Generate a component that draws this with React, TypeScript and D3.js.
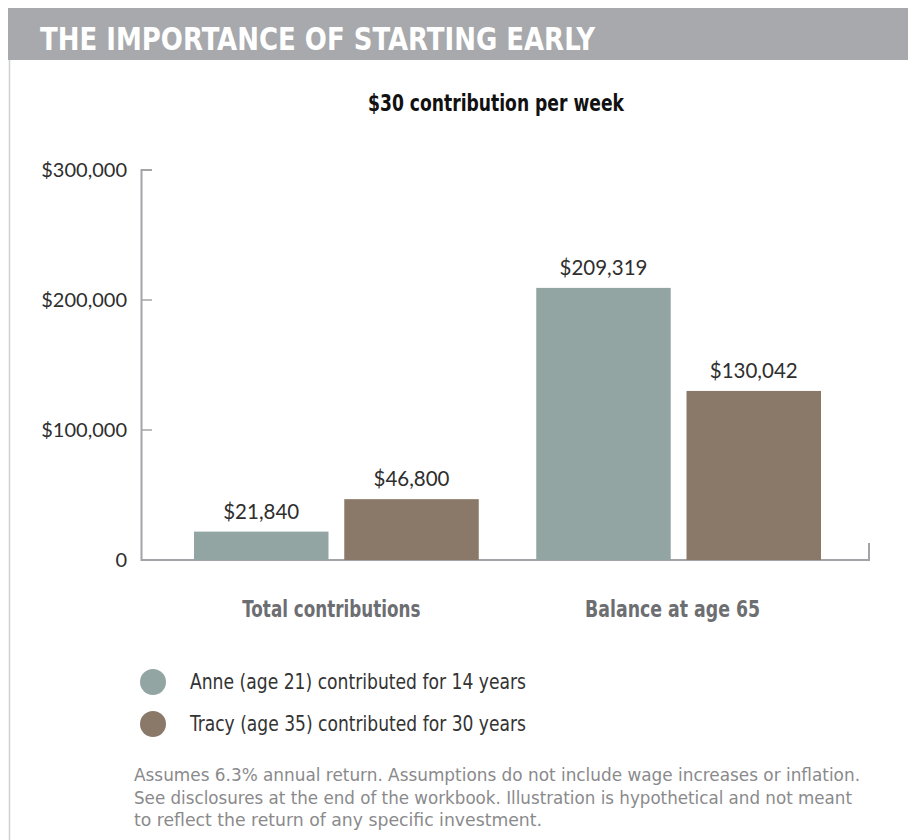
import React from "react";
import * as d3 from "d3";

const categories = ["Total contributions", "Balance at age 65"];
const seriesNames = ["Anne (age 21) contributed for 14 years", "Tracy (age 35) contributed for 30 years"];
const anneValues = [21840, 209319];
const tracyValues = [46800, 130042];
const yTicks = [0, 100000, 200000, 300000];
const colors = ["#92a5a3", "#8a7968"];
const footnoteLines = [
  "Assumes 6.3% annual return. Assumptions do not include wage increases or inflation.",
  "See disclosures at the end of the workbook. Illustration is hypothetical and not meant",
  "to reflect the return of any specific investment.",
];

const COND = "'Liberation Sans Narrow', 'DejaVu Sans Condensed', 'Roboto Condensed', sans-serif";
const LIGHT = "Lato, 'Open Sans', sans-serif";

export default function App() {
  const W = 908, H = 840;
  const y = d3.scaleLinear().domain([0, 300000]).range([560, 170]);
  const x0 = d3.scaleBand<string>().domain(categories).range([165.25, 849.75]).paddingInner(0.168).paddingOuter(0.084);
  const x1 = d3.scaleBand<string>().domain(["a", "t"]).range([0, x0.bandwidth()]).paddingInner(0.105);
  const series = [anneValues, tracyValues];
  const fmt = (v: number) => (v === 0 ? "0" : "$" + d3.format(",")(v));
  const axisColor = "#a3a4a8";

  return (
    <svg width={W} height={H} style={{ position: "absolute", left: 0, top: 0, background: "#fff" }}>
      <rect x={8} y={8} width={W - 8} height={52} fill="#a7a9ac" />
      <line x1={9.5} x2={9.5} y1={60} y2={H} stroke="#cfd0d2" strokeWidth={1.5} />
      <text x={40} y={50} fill="#fff" fontFamily={COND} fontWeight={700} fontSize={32} textLength={555} lengthAdjust="spacingAndGlyphs">
        THE IMPORTANCE OF STARTING EARLY
      </text>
      <text x={496} y={111} textAnchor="middle" fill="#111" fontFamily={COND} fontWeight={700} fontSize={23} textLength={256} lengthAdjust="spacingAndGlyphs">
        $30 contribution per week
      </text>

      {/* axes */}
      <path d={`M152,${y(300000)}H141.5V${y(0)}H869V543`} fill="none" stroke={axisColor} strokeWidth={2} />
      {yTicks.filter((t) => t > 0 && t < 300000).map((t) => (
        <line key={t} x1={141.5} x2={152} y1={y(t)} y2={y(t)} stroke={axisColor} strokeWidth={1.5} />
      ))}
      {yTicks.map((t) => (
        <text key={t} x={127} y={y(t)} dy="0.35em" textAnchor="end" fill="#2e2e2e" fontFamily={LIGHT} fontWeight={400} fontSize={20}>
          {fmt(t)}
        </text>
      ))}

      {/* bars */}
      {categories.map((c, ci) => (
        <g key={c} transform={`translate(${x0(c)},0)`}>
          {series.map((s, si) => {
            const bx = x1(si === 0 ? "a" : "t") as number;
            const bw = x1.bandwidth();
            return (
              <g key={si}>
                <rect x={bx} y={y(s[ci])} width={bw} height={y(0) - y(s[ci])} fill={colors[si]} />
                <text x={bx + bw / 2} y={y(s[ci]) - 13} textAnchor="middle" fill="#2e2e2e" fontFamily={LIGHT} fontWeight={400} fontSize={20.5}>
                  {fmt(s[ci])}
                </text>
              </g>
            );
          })}
          <text x={x0.bandwidth() / 2 - (ci === 0 ? 5 : 6)} y={617} textAnchor="middle" fill="#6d6e71" fontFamily={COND} fontWeight={700} fontSize={23} textLength={ci === 0 ? 178 : 175} lengthAdjust="spacingAndGlyphs">
            {c}
          </text>
        </g>
      ))}

      {/* legend */}
      {seriesNames.map((n, i) => (
        <g key={n} transform={`translate(0,${682 + i * 42})`}>
          <circle cx={153} cy={0} r={13} fill={colors[i]} />
          <text x={190} y={7} fill="#333" fontFamily={COND} fontSize={21} textLength={336} lengthAdjust="spacingAndGlyphs">
            {n}
          </text>
        </g>
      ))}

      {/* footnote */}
      {footnoteLines.map((l, i) => (
        <text key={i} x={134} y={781 + i * 22.5} fill="#8a8a8c" fontFamily={COND} fontSize={18} textLength={[726, 718, 408][i]} lengthAdjust="spacingAndGlyphs">
          {l}
        </text>
      ))}
    </svg>
  );
}
